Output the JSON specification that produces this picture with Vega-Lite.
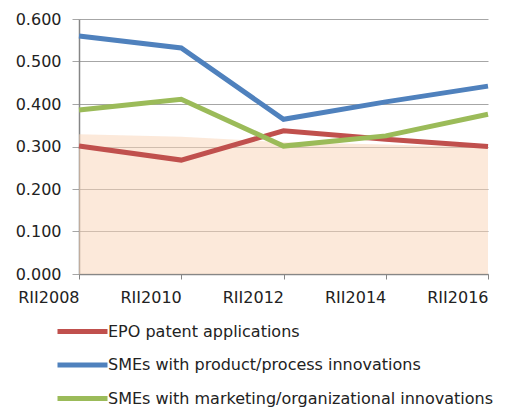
{
  "$schema": "https://vega.github.io/schema/vega-lite/v6.json",
  "width": 409,
  "height": 255,
  "autosize": {"type": "none"},
  "padding": {"left": 79, "top": 19, "right": 37, "bottom": 135},
  "background": "white",
  "config": {
    "view": {"stroke": null},
    "font": "DejaVu Sans"
  },
  "datasets": {
    "lines": [
      {"year": "RII2008", "series": "EPO patent applications", "value": 0.301},
      {"year": "RII2010", "series": "EPO patent applications", "value": 0.268},
      {"year": "RII2012", "series": "EPO patent applications", "value": 0.337},
      {"year": "RII2014", "series": "EPO patent applications", "value": 0.317},
      {"year": "RII2016", "series": "EPO patent applications", "value": 0.300},
      {"year": "RII2008", "series": "SMEs with product/process innovations", "value": 0.560},
      {"year": "RII2010", "series": "SMEs with product/process innovations", "value": 0.532},
      {"year": "RII2012", "series": "SMEs with product/process innovations", "value": 0.364},
      {"year": "RII2014", "series": "SMEs with product/process innovations", "value": 0.405},
      {"year": "RII2016", "series": "SMEs with product/process innovations", "value": 0.442},
      {"year": "RII2008", "series": "SMEs with marketing/organizational innovations", "value": 0.386},
      {"year": "RII2010", "series": "SMEs with marketing/organizational innovations", "value": 0.411},
      {"year": "RII2012", "series": "SMEs with marketing/organizational innovations", "value": 0.301},
      {"year": "RII2014", "series": "SMEs with marketing/organizational innovations", "value": 0.325},
      {"year": "RII2016", "series": "SMEs with marketing/organizational innovations", "value": 0.376}
    ],
    "band": [
      {"year": "RII2008", "value": 0.329},
      {"year": "RII2010", "value": 0.323},
      {"year": "RII2012", "value": 0.310},
      {"year": "RII2014", "value": 0.305},
      {"year": "RII2016", "value": 0.298}
    ]
  },
  "layer": [
    {
      "data": {"name": "band"},
      "mark": {"type": "area", "color": "#F9D3B5", "opacity": 0.5},
      "encoding": {
        "x": {"field": "year", "type": "ordinal", "scale": {"type": "point", "padding": 0}},
        "y": {"field": "value", "type": "quantitative"}
      }
    },
    {
      "data": {"name": "lines"},
      "mark": {"type": "line", "strokeWidth": 5},
      "encoding": {
        "x": {
          "field": "year", "type": "ordinal",
          "scale": {"type": "point", "padding": 0},
          "axis": {
            "title": null, "labelAngle": 0, "labelFontSize": 16, "labelColor": "#222222",
            "labelFlush": false, "labelOverlap": false,
            "domainColor": "#868686", "domainWidth": 1.5, "tickColor": "#868686", "tickSize": 5,
            "labelPadding": 18, "grid": false
          }
        },
        "y": {
          "field": "value", "type": "quantitative",
          "scale": {"domain": [0, 0.6], "nice": false},
          "axis": {
            "title": null, "format": ".3f", "values": [0, 0.1, 0.2, 0.3, 0.4, 0.5, 0.6],
            "labelFontSize": 16, "labelColor": "#222222", "labelOverlap": false, "labelFlush": false,
            "domainColor": "#868686", "domainWidth": 1.5, "tickColor": "#A6A6A6", "tickSize": 7,
            "labelPadding": 11, "gridColor": "#A6A6A6", "gridWidth": 1
          }
        },
        "color": {
          "field": "series", "type": "nominal",
          "sort": ["EPO patent applications", "SMEs with product/process innovations", "SMEs with marketing/organizational innovations"],
          "scale": {
            "domain": ["EPO patent applications", "SMEs with product/process innovations", "SMEs with marketing/organizational innovations"],
            "range": ["#C0504D", "#4F81BD", "#9BBB59"]
          },
          "legend": {
            "title": null, "orient": "none", "legendX": -9, "legendY": 300, "direction": "vertical",
            "symbolType": "M-2.5,0H2.5", "symbolSize": 400, "symbolStrokeWidth": 5,
            "labelFontSize": 16, "labelColor": "#222222", "labelOffset": 13, "rowPadding": 10.5,
            "labelLimit": 500, "padding": 0
          }
        }
      }
    }
  ]
}
